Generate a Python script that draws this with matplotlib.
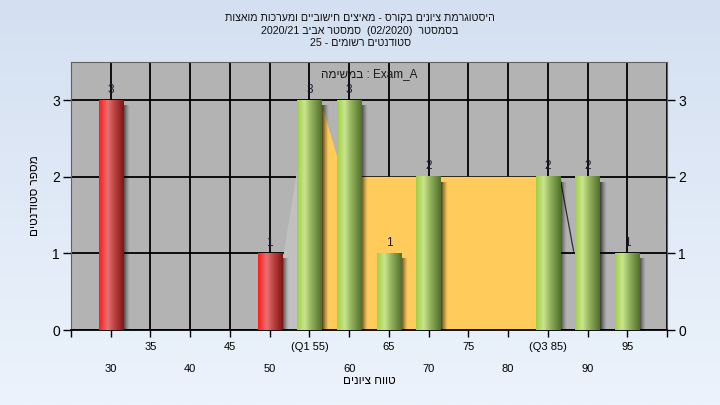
import numpy as np
import matplotlib
matplotlib.use('Agg')
import matplotlib.pyplot as plt
from matplotlib.colors import LinearSegmentedColormap
from matplotlib.patches import Polygon

# data
grades = [30, 35, 40, 45, 50, 55, 60, 65, 70, 75, 80, 85, 90, 95]
counts = [3, 0, 0, 0, 1, 3, 3, 1, 2, 0, 0, 2, 2, 1]
q1_grade = 55
q3_grade = 85
pass_grade = 55
iqr_level = 2
exam_name = 'Exam_A'
registered = 25

title_1 = 'היסטוגרמת ציונים בקורס - מאיצים חישוביים ומערכות מואצות'
semester_word = 'בסמסטר'
semester_name = 'סמסטר אביב'
semester_code = '(02/2020)'
semester_year = '2020/21'
students_text = 'סטודנטים רשומים'
task_word = 'במשימה'
xlabel_text = 'טווח ציונים'
ylabel_text = 'מספר סטודנטים'

plt.rcParams['font.family'] = ['Liberation Sans', 'DejaVu Sans']


def rtl(s):
    # matplotlib has no bidi, so hebrew runs are given in visual order
    return s[::-1]


def tick_text(g):
    if g == q1_grade:
        return f'(Q1 {g})'
    if g == q3_grade:
        return f'(Q3 {g})'
    return str(g)


fig = plt.figure(figsize=(7.2, 4.05), dpi=100)

# light blue background gradient
bg = fig.add_axes([0, 0, 1, 1], zorder=-5)
grad = np.linspace(0, 1, 256).reshape(-1, 1)
bg_cmap = LinearSegmentedColormap.from_list('bg', ['#d4e0f1', '#ecf3fc'])
bg.imshow(grad, aspect='auto', cmap=bg_cmap, extent=[0, 1, 0, 1], origin='upper')
bg.axis('off')

ax = fig.add_axes([71 / 720, 1 - 330 / 405, 596 / 720, 268 / 405])
ax.set_facecolor('#b3b3b3')

idx = np.arange(len(grades))
width = 0.61
shadow_w = 0.17
q1_i = grades.index(q1_grade)
q3_i = grades.index(q3_grade)

# yellow inter-quartile area behind the bars
top_q1 = counts[q1_i]
yellow = Polygon([(q1_i, 0), (q1_i, top_q1), (q1_i + 0.28, top_q1),
                  (q1_i + 0.85, iqr_level), (q3_i, iqr_level), (q3_i, 0)],
                 closed=True, facecolor='#ffcb5a', edgecolor='none', zorder=1.5)
ax.add_patch(yellow)
# lighter wedge left of Q1 bar
prev = q1_i - 1
light = Polygon([(prev + width / 2 + 0.05, 0), (prev + width / 2 + 0.05, counts[prev]),
                 (q1_i - width / 2, iqr_level + 0.1), (q1_i - width / 2, 0)],
                closed=True, facecolor='#c0c0c0', edgecolor='none', zorder=1.4)
ax.add_patch(light)
# thin whisker line right of Q3 bar
ax.plot([q3_i + width / 2, q3_i + 0.65], [iqr_level, counts[q3_i + 1] - 0.97],
        color='#303030', lw=0.9, zorder=1.6)

ax.grid(True, color='black', lw=1.3, zorder=1)
ax.set_axisbelow(True)

red_cmap = LinearSegmentedColormap.from_list(
    'red', [(0, '#ff1a1a'), (0.35, '#e57272'), (0.6, '#c04545'), (1, '#7e1515')])
green_cmap = LinearSegmentedColormap.from_list(
    'green', [(0, '#9fcf45'), (0.3, '#c9e58e'), (0.6, '#8fae5a'), (1, '#526f2b')])
hgrad = np.linspace(0, 1, 128).reshape(1, -1)
shadow = np.zeros((1, 32, 4))
shadow[0, :, 3] = np.linspace(0.75, 0.0, 32) ** 1.3

for i, (g, c) in enumerate(zip(grades, counts)):
    if c == 0:
        continue
    cmap = red_cmap if g < pass_grade else green_cmap
    x0, x1 = i - width / 2, i + width / 2
    ax.imshow(shadow, extent=[x1, x1 + shadow_w, -0.02, c - 0.07], aspect='auto',
              zorder=2.5, interpolation='bilinear')
    ax.imshow(hgrad, extent=[x0, x1, 0, c], aspect='auto', cmap=cmap,
              zorder=3, interpolation='bilinear')
    ax.text(i, c + 0.06, str(c), ha='center', va='bottom', fontsize=8.5,
            color='#1c1c30', zorder=4)

ax.set_xlim(-1, len(grades))
ax.set_ylim(0, 3.5)

# staggered x tick labels
even = [i for i in idx if i % 2 == 0]
odd = [i for i in idx if i % 2 == 1]
ax.set_xticks(even)
ax.set_xticklabels([tick_text(grades[i]) for i in even])
ax.set_xticks(odd + [-1, len(grades)], minor=True)
ax.set_xticklabels([tick_text(grades[i]) for i in odd] + ['', ''], minor=True)
ax.tick_params(axis='x', which='major', length=5, width=1, pad=19.5, labelsize=8)
ax.tick_params(axis='x', which='minor', length=5, width=1, pad=3.6, labelsize=8)
ax.xaxis.grid(True, which='minor', color='black', lw=1.3)

ax.set_yticks([0, 1, 2, 3])
ax.tick_params(axis='y', length=6, width=1, labelsize=10, labelright=True,
               right=True, pad=2)

for s in ax.spines.values():
    s.set_color('#606060')
    s.set_linewidth(0.8)
ax.spines['bottom'].set_color('black')
ax.spines['bottom'].set_linewidth(1.3)

ax.text(0.5, 0.955, rtl(task_word) + ' : ' + exam_name, transform=ax.transAxes,
        ha='center', va='center', fontsize=8.5, color='#1a1a1a', zorder=5)

ax.set_xlabel(rtl(xlabel_text), fontsize=8.5, labelpad=1)
ax.set_ylabel(rtl(ylabel_text), fontsize=8.5, labelpad=8)

line2 = semester_year + ' ' + rtl(semester_name) + '  ' + semester_code + '  ' + rtl(semester_word)
line3 = f'{registered} - ' + rtl(students_text)
for y_px, txt in zip([18, 30.5, 43], [rtl(title_1), line2, line3]):
    fig.text(0.5, 1 - y_px / 405, txt, ha='center', va='center', fontsize=7.7,
             color='#111111')

fig.savefig('out.png', dpi=100)
